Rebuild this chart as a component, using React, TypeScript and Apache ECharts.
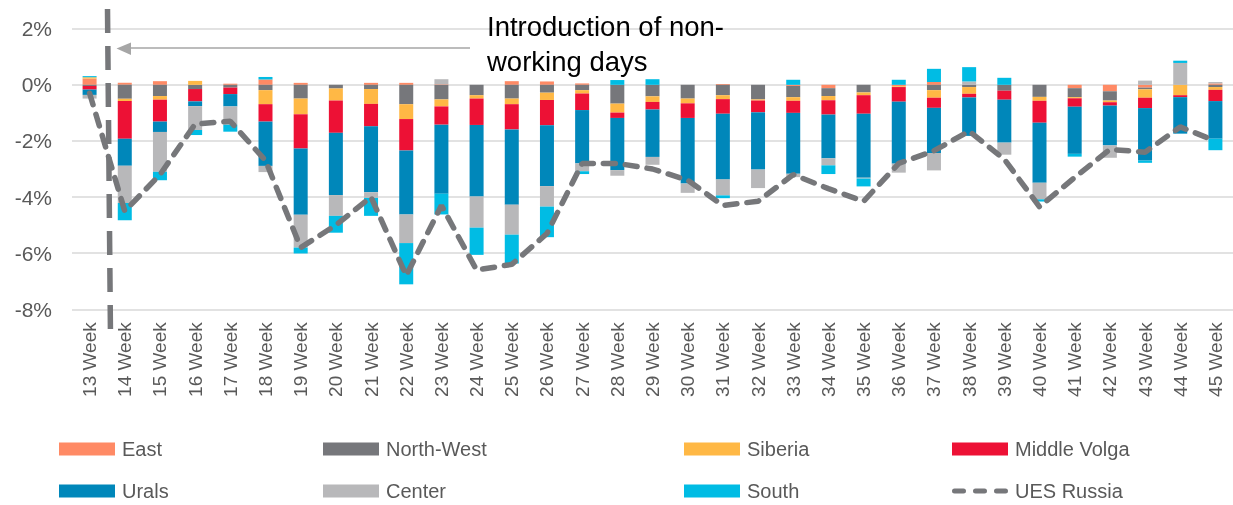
import React, { useEffect, useRef } from "react";
import * as echarts from "echarts";

const weeks = [13, 14, 15, 16, 17, 18, 19, 20, 21, 22, 23, 24, 25, 26, 27, 28, 29, 30, 31, 32, 33, 34, 35, 36, 37, 38, 39, 40, 41, 42, 43, 44, 45];
const categories = weeks.map((w) => `${w} Week`);

const east = [0.22, 0.07, 0.13, 0, 0.04, 0.19, 0.07, 0, 0.07, 0.07, 0.02, 0, 0.13, 0.12, 0.05, 0, 0, 0, 0.03, 0, -0.04, -0.12, 0, -0.05, 0.1, 0, 0, 0, -0.12, -0.23, -0.1, 0, 0.05];
const northWest = [-0.04, -0.5, -0.4, -0.15, -0.1, -0.19, -0.49, -0.13, -0.15, -0.69, -0.52, -0.37, -0.49, -0.28, -0.19, -0.67, -0.41, -0.49, -0.37, -0.52, -0.4, -0.28, -0.27, 0, -0.19, -0.08, -0.21, -0.43, -0.32, -0.33, -0.06, 0, -0.08];
const siberia = [0.05, -0.08, -0.13, 0.14, 0, -0.5, -0.56, -0.43, -0.53, -0.53, -0.25, -0.12, -0.2, -0.26, -0.12, -0.32, -0.2, -0.17, -0.14, -0.04, -0.13, -0.15, -0.1, -0.03, -0.27, -0.24, 0, -0.14, -0.04, -0.06, -0.3, -0.37, -0.1];
const middleVolga = [-0.13, -1.34, -0.78, -0.44, -0.23, -0.62, -1.22, -1.15, -0.8, -1.12, -0.65, -0.94, -0.9, -0.9, -0.59, -0.19, -0.27, -0.52, -0.52, -0.42, -0.43, -0.51, -0.66, -0.52, -0.36, -0.13, -0.32, -0.78, -0.3, -0.12, -0.37, -0.07, -0.4];
const urals = [-0.19, -0.96, -0.37, -0.17, -0.44, -1.58, -2.36, -2.22, -2.35, -2.28, -2.46, -2.55, -2.68, -2.17, -1.9, -1.86, -1.69, -2.34, -2.34, -2.04, -2.17, -1.56, -2.28, -2.21, -1.61, -1.37, -1.53, -2.14, -1.68, -1.42, -1.87, -1.3, -1.34];
const center = [-0.13, -1.33, -1.42, -0.85, -0.65, -0.22, -1.17, -0.74, -0.2, -1.02, 0.18, -1.11, -1.07, -0.73, -0.28, -0.2, -0.28, -0.33, -0.57, -0.66, -0.12, -0.25, -0.03, -0.32, -0.62, 0.12, -0.43, -0.59, 0, -0.44, 0.15, 0.78, 0.05];
const south = [0.04, -0.62, -0.3, -0.18, -0.25, 0.09, -0.21, -0.6, -0.64, -1.47, -0.74, -0.97, -1.03, -1.09, -0.1, 0.17, 0.2, 0, -0.1, 0, 0.18, -0.31, -0.28, 0.18, 0.47, 0.51, 0.25, -0.08, -0.1, 0, -0.08, 0.08, -0.41];
const uesRussia = [-0.3, -4.5, -3.2, -1.4, -1.3, -2.7, -5.8, -5.0, -4.0, -6.8, -4.3, -6.6, -6.4, -5.3, -2.8, -2.8, -3.0, -3.4, -4.3, -4.15, -3.2, -3.7, -4.15, -2.8, -2.35, -1.65, -2.65, -4.35, -3.3, -2.3, -2.4, -1.5, -2.0];

const barSeries = [
  { name: "East", data: east, color: "#FF8A65" },
  { name: "North-West", data: northWest, color: "#76777B" },
  { name: "Siberia", data: siberia, color: "#FFB845" },
  { name: "Middle Volga", data: middleVolga, color: "#ED1135" },
  { name: "Urals", data: urals, color: "#0087BA" },
  { name: "Center", data: center, color: "#B8B8BA" },
  { name: "South", data: south, color: "#00BCE4" },
];

const FONT = "'Liberation Sans', Arial, sans-serif";
const TEXT_GRAY = "#595959";
const LINE_GRAY = "#76777A";

const dashIcon =
  "path://M2.5,0 H11.5 A2.5,2.5 0 0 1 11.5,5 H2.5 A2.5,2.5 0 0 1 2.5,0 Z " +
  "M23.5,0 H32.5 A2.5,2.5 0 0 1 32.5,5 H23.5 A2.5,2.5 0 0 1 23.5,0 Z " +
  "M44.5,0 H53.5 A2.5,2.5 0 0 1 53.5,5 H44.5 A2.5,2.5 0 0 1 44.5,0 Z";

const legendColumns: { left: number; data: any[] }[] = [
  { left: 59, data: ["East", "Urals"] },
  { left: 323, data: ["North-West", "Center"] },
  { left: 684, data: ["Siberia", "South"] },
  { left: 952, data: ["Middle Volga", { name: "UES Russia", icon: dashIcon, itemStyle: { color: LINE_GRAY } }] },
];

export default function App() {
  const ref = useRef<HTMLDivElement>(null);

  useEffect(() => {
    if (!ref.current) return;
    const chart = echarts.init(ref.current, undefined, { renderer: "svg" });
    const option: any = {
      animation: false,
      textStyle: { fontFamily: FONT },
      grid: { left: 72, right: 0, top: 28.7, height: 280.6, containLabel: false },
      legend: legendColumns.map((c) => ({
        orient: "vertical",
        left: c.left,
        top: 439,
        padding: 0,
        itemWidth: 56,
        itemHeight: 13,
        itemGap: 22,
        selectedMode: false,
        icon: "rect",
        textStyle: { fontSize: 20, color: TEXT_GRAY, fontFamily: FONT, padding: [0, 0, 0, 2] },
        data: c.data,
      })),
      xAxis: {
        type: "category",
        data: categories,
        axisLine: { show: false },
        axisTick: { show: false },
        axisLabel: {
          interval: 0,
          rotate: 90,
          fontSize: 19,
          color: TEXT_GRAY,
          margin: 13,
          fontFamily: FONT,
        },
      },
      yAxis: {
        type: "value",
        min: -8,
        max: 2,
        interval: 2,
        axisLine: { show: false },
        axisTick: { show: false },
        axisLabel: {
          formatter: "{value}%",
          fontSize: 21,
          color: TEXT_GRAY,
          margin: 20,
          fontFamily: FONT,
        },
        splitLine: { lineStyle: { color: "#D9D9D9", width: 1.5 } },
      },
      series: [
        ...barSeries.map((s) => ({
          name: s.name,
          type: "bar",
          stack: "total",
          barWidth: 14,
          data: s.data,
          itemStyle: { color: s.color },
        })),
        {
          name: "UES Russia",
          type: "line",
          data: uesRussia,
          symbol: "none",
          z: 5,
          itemStyle: { color: LINE_GRAY },
          lineStyle: { color: LINE_GRAY, width: 5.5, type: [12, 10], cap: "round" },
        },
      ],
      graphic: [
        {
          type: "line",
          z: 100,
          shape: { x1: 107.5, y1: 9, x2: 110.5, y2: 338 },
          style: { stroke: LINE_GRAY, lineWidth: 5.5, lineDash: [24, 13] },
        },
        {
          type: "line",
          z: 100,
          shape: { x1: 128, y1: 48, x2: 470, y2: 48 },
          style: { stroke: "#A6A6A6", lineWidth: 1.5 },
        },
        {
          type: "polygon",
          z: 100,
          shape: { points: [[116.5, 48.5], [131, 42.5], [131, 55]] },
          style: { fill: "#A6A6A6" },
        },
        {
          type: "text",
          z: 100,
          x: 487,
          y: 9,
          style: {
            text: "Introduction of non-\nworking days",
            fontSize: 27.5,
            lineHeight: 35,
            fontFamily: FONT,
            fill: "#000000",
            verticalAlign: "top",
          },
        },
      ],
    };
    chart.setOption(option);
    return () => chart.dispose();
  }, []);

  return <div ref={ref} style={{ position: "fixed", left: 0, top: 0, width: 1233, height: 505 }} />;
}
